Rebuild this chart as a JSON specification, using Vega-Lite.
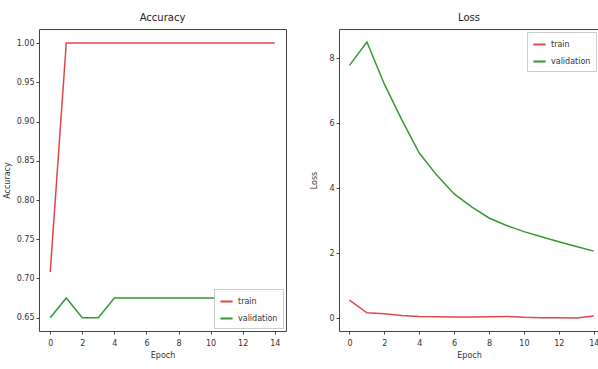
{
  "$schema": "https://vega.github.io/schema/vega-lite/v6.json",
  "background": "white",
  "padding": {"left": 2, "top": 12, "right": 0, "bottom": 2},
  "datasets": {
    "acc": [
      {"epoch": 0, "series": "train", "value": 0.708},
      {"epoch": 1, "series": "train", "value": 1.0},
      {"epoch": 2, "series": "train", "value": 1.0},
      {"epoch": 3, "series": "train", "value": 1.0},
      {"epoch": 4, "series": "train", "value": 1.0},
      {"epoch": 5, "series": "train", "value": 1.0},
      {"epoch": 6, "series": "train", "value": 1.0},
      {"epoch": 7, "series": "train", "value": 1.0},
      {"epoch": 8, "series": "train", "value": 1.0},
      {"epoch": 9, "series": "train", "value": 1.0},
      {"epoch": 10, "series": "train", "value": 1.0},
      {"epoch": 11, "series": "train", "value": 1.0},
      {"epoch": 12, "series": "train", "value": 1.0},
      {"epoch": 13, "series": "train", "value": 1.0},
      {"epoch": 14, "series": "train", "value": 1.0},
      {"epoch": 0, "series": "validation", "value": 0.65},
      {"epoch": 1, "series": "validation", "value": 0.675},
      {"epoch": 2, "series": "validation", "value": 0.65},
      {"epoch": 3, "series": "validation", "value": 0.65},
      {"epoch": 4, "series": "validation", "value": 0.675},
      {"epoch": 5, "series": "validation", "value": 0.675},
      {"epoch": 6, "series": "validation", "value": 0.675},
      {"epoch": 7, "series": "validation", "value": 0.675},
      {"epoch": 8, "series": "validation", "value": 0.675},
      {"epoch": 9, "series": "validation", "value": 0.675},
      {"epoch": 10, "series": "validation", "value": 0.675},
      {"epoch": 11, "series": "validation", "value": 0.675},
      {"epoch": 12, "series": "validation", "value": 0.675},
      {"epoch": 13, "series": "validation", "value": 0.675},
      {"epoch": 14, "series": "validation", "value": 0.675}
    ],
    "loss": [
      {"epoch": 0, "series": "train", "value": 0.55},
      {"epoch": 1, "series": "train", "value": 0.16},
      {"epoch": 2, "series": "train", "value": 0.13},
      {"epoch": 3, "series": "train", "value": 0.08},
      {"epoch": 4, "series": "train", "value": 0.05},
      {"epoch": 5, "series": "train", "value": 0.04},
      {"epoch": 6, "series": "train", "value": 0.03},
      {"epoch": 7, "series": "train", "value": 0.03},
      {"epoch": 8, "series": "train", "value": 0.04},
      {"epoch": 9, "series": "train", "value": 0.05},
      {"epoch": 10, "series": "train", "value": 0.02},
      {"epoch": 11, "series": "train", "value": 0.01},
      {"epoch": 12, "series": "train", "value": 0.01},
      {"epoch": 13, "series": "train", "value": 0.0},
      {"epoch": 14, "series": "train", "value": 0.06},
      {"epoch": 0, "series": "validation", "value": 7.78},
      {"epoch": 1, "series": "validation", "value": 8.5},
      {"epoch": 2, "series": "validation", "value": 7.2},
      {"epoch": 3, "series": "validation", "value": 6.1},
      {"epoch": 4, "series": "validation", "value": 5.08},
      {"epoch": 5, "series": "validation", "value": 4.4},
      {"epoch": 6, "series": "validation", "value": 3.82},
      {"epoch": 7, "series": "validation", "value": 3.42},
      {"epoch": 8, "series": "validation", "value": 3.08},
      {"epoch": 9, "series": "validation", "value": 2.85},
      {"epoch": 10, "series": "validation", "value": 2.66},
      {"epoch": 11, "series": "validation", "value": 2.5},
      {"epoch": 12, "series": "validation", "value": 2.35},
      {"epoch": 13, "series": "validation", "value": 2.2},
      {"epoch": 14, "series": "validation", "value": 2.06}
    ]
  },
  "config": {
    "font": "DejaVu Sans",
    "view": {"stroke": "#444", "strokeWidth": 1},
    "axis": {
      "grid": false,
      "domain": false,
      "tickColor": "#444",
      "tickSize": 3,
      "labelFont": "DejaVu Sans",
      "labelFontSize": 8,
      "labelColor": "#333",
      "titleFont": "DejaVu Sans",
      "titleFontSize": 8,
      "titleFontWeight": "normal",
      "titleColor": "#333"
    },
    "title": {"font": "DejaVu Sans", "fontSize": 10, "fontWeight": "normal", "color": "#222", "offset": 6},
    "legend": {
      "labelFont": "DejaVu Sans",
      "labelFontSize": 8,
      "labelColor": "#333",
      "symbolType": "stroke",
      "symbolStrokeWidth": 2,
      "symbolSize": 150,
      "fillColor": "white",
      "strokeColor": "#ccc",
      "padding": 5,
      "rowPadding": 5,
      "title": null
    }
  },
  "resolve": {"legend": {"color": "independent"}, "scale": {"color": "independent"}},
  "spacing": 23,
  "hconcat": [
    {
      "title": "Accuracy",
      "width": 247,
      "height": 302,
      "data": {"name": "acc"},
      "mark": {"type": "line", "strokeWidth": 1.5},
      "encoding": {
        "x": {"field": "epoch", "type": "quantitative", "title": "Epoch",
              "scale": {"domain": [-0.7, 14.7], "nice": false, "zero": false},
              "axis": {"values": [0, 2, 4, 6, 8, 10, 12, 14], "labelPadding": 5, "titlePadding": 4}},
        "y": {"field": "value", "type": "quantitative", "title": "Accuracy",
              "scale": {"domain": [0.633, 1.018], "nice": false, "zero": false},
              "axis": {"values": [0.65, 0.7, 0.75, 0.8, 0.85, 0.9, 0.95, 1.0], "format": ".2f", "titlePadding": 5}},
        "color": {"field": "series", "type": "nominal",
                  "scale": {"domain": ["train", "validation"], "range": ["#e04848", "#339933"]},
                  "legend": {"orient": "bottom-right", "offset": 3}}
      }
    },
    {
      "title": "Loss",
      "width": 260,
      "height": 302,
      "data": {"name": "loss"},
      "mark": {"type": "line", "strokeWidth": 1.5},
      "encoding": {
        "x": {"field": "epoch", "type": "quantitative", "title": "Epoch",
              "scale": {"domain": [-0.6, 14.3], "nice": false, "zero": false},
              "axis": {"values": [0, 2, 4, 6, 8, 10, 12, 14], "labelPadding": 5, "titlePadding": 4}},
        "y": {"field": "value", "type": "quantitative", "title": "Loss",
              "scale": {"domain": [-0.4, 8.9], "nice": false, "zero": false},
              "axis": {"values": [0, 2, 4, 6, 8], "titlePadding": 10}},
        "color": {"field": "series", "type": "nominal",
                  "scale": {"domain": ["train", "validation"], "range": ["#e04848", "#339933"]},
                  "legend": {"orient": "top-right", "offset": 3}}
      }
    }
  ]
}
